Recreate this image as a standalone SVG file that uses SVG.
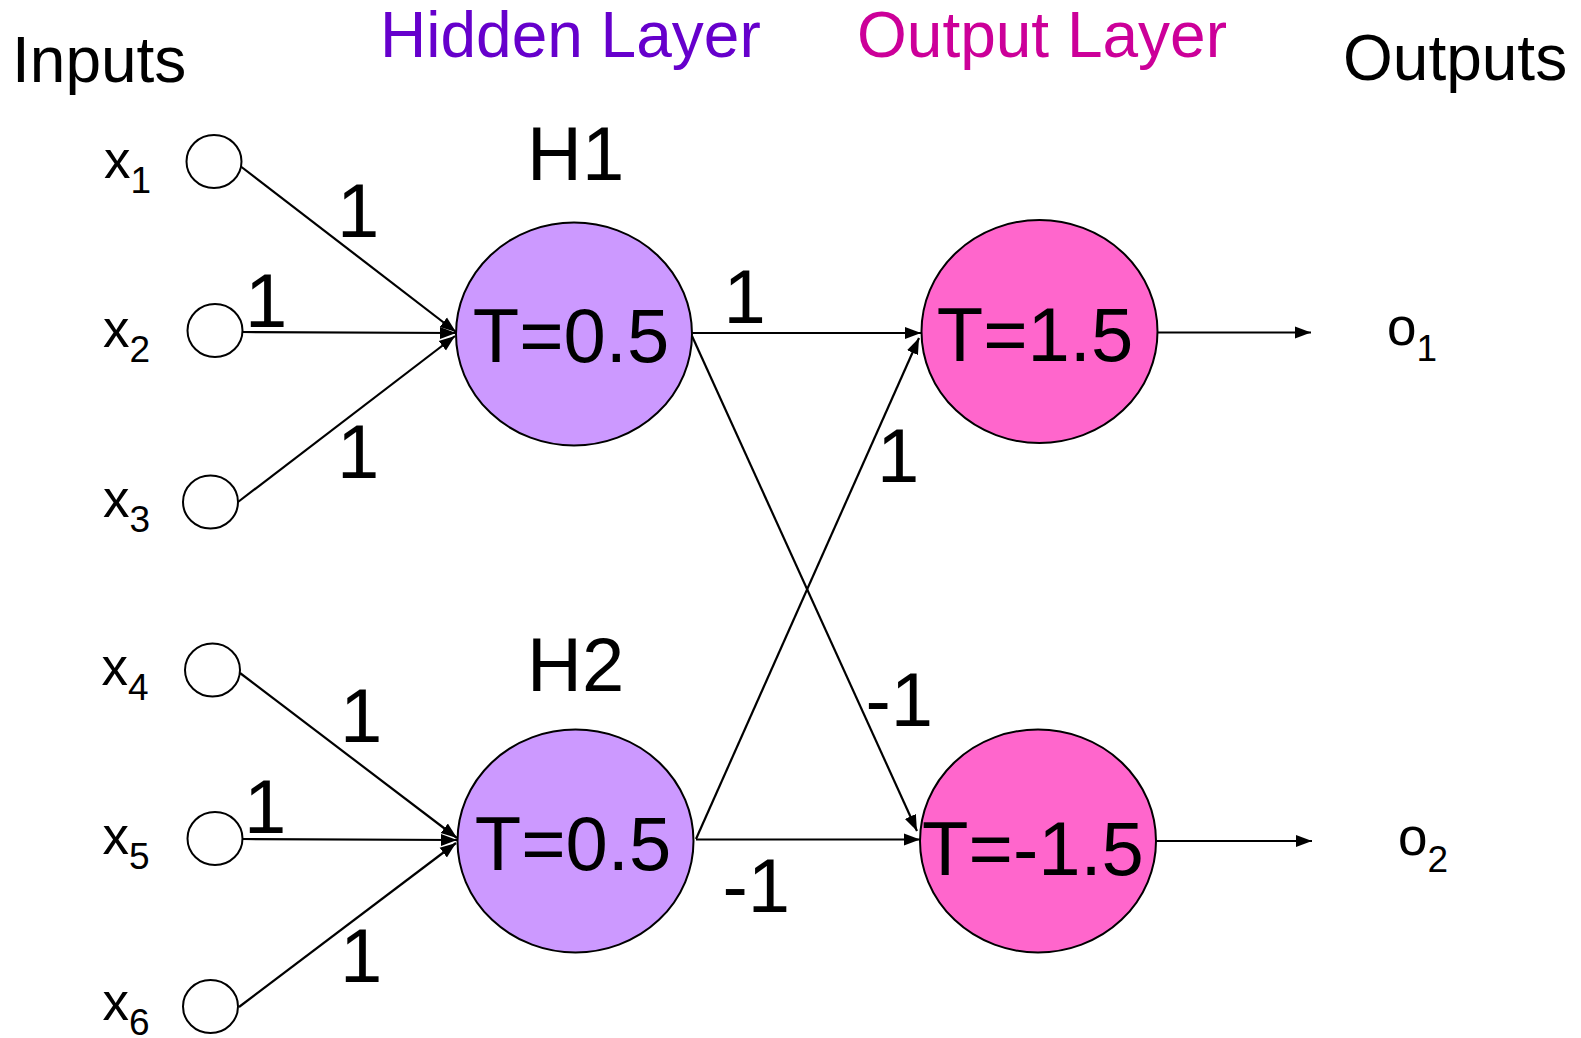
<svg xmlns="http://www.w3.org/2000/svg" width="1581" height="1038" viewBox="0 0 1581 1038">
<style>
text{font-family:"Liberation Sans",Arial,Helvetica,sans-serif;fill:#000}
.head{font-size:64px}
.big{font-size:76px}
.lbl{font-size:53px}
.sub{font-size:37px}
.inp{fill:#fff;stroke:#000;stroke-width:2}
.hid{fill:#CC99FF;stroke:#000;stroke-width:2}
.out{fill:#FF66CC;stroke:#000;stroke-width:2}
.edge{stroke:#000;stroke-width:2.2;fill:none;marker-end:url(#arr)}
</style>
<defs>
<marker id="arr" markerUnits="userSpaceOnUse" markerWidth="17" markerHeight="14" refX="16" refY="7" orient="auto">
<path d="M0,1 L16,7 L0,13 z" fill="#000"/>
</marker>
</defs>
<rect width="1581" height="1038" fill="#fff"/>
<g id="headings">
<text class="head" x="12" y="82">Inputs</text>
<text class="head" x="380" y="57" style="fill:#6600CC">Hidden Layer</text>
<text class="head" x="857" y="57" style="fill:#CC0099">Output Layer</text>
<text class="head" x="1343" y="80">Outputs</text>
<text class="big" x="527" y="180">H1</text>
<text class="big" x="527" y="691">H2</text>
</g>
<g id="nodes">
<g id="in1"><ellipse class="inp" cx="214" cy="161.5" rx="27.5" ry="26.5"/><text class="lbl" x="104" y="178">x<tspan class="sub" dy="15">1</tspan></text></g>
<g id="in2"><ellipse class="inp" cx="215" cy="330.5" rx="27.5" ry="26.5"/><text class="lbl" x="103" y="347">x<tspan class="sub" dy="15">2</tspan></text></g>
<g id="in3"><ellipse class="inp" cx="210.5" cy="502" rx="27.5" ry="26.5"/><text class="lbl" x="103" y="517">x<tspan class="sub" dy="15">3</tspan></text></g>
<g id="in4"><ellipse class="inp" cx="212.5" cy="670" rx="27.5" ry="26.5"/><text class="lbl" x="101.5" y="685">x<tspan class="sub" dy="15">4</tspan></text></g>
<g id="in5"><ellipse class="inp" cx="215" cy="838.5" rx="27.5" ry="26.5"/><text class="lbl" x="102.5" y="853.5">x<tspan class="sub" dy="15">5</tspan></text></g>
<g id="in6"><ellipse class="inp" cx="210.5" cy="1006.5" rx="27.5" ry="26.5"/><text class="lbl" x="102.5" y="1020">x<tspan class="sub" dy="15">6</tspan></text></g>
<g id="h1"><ellipse class="hid" cx="574" cy="334" rx="118" ry="111.5"/><text class="big" x="571" y="361.5" text-anchor="middle">T=0.5</text></g>
<g id="h2"><ellipse class="hid" cx="575.5" cy="841" rx="118" ry="111.5"/><text class="big" x="573" y="870" text-anchor="middle">T=0.5</text></g>
<g id="o1n"><ellipse class="out" cx="1039.5" cy="331.5" rx="118" ry="111.5"/><text class="big" x="1035" y="360.5" text-anchor="middle">T=1.5</text></g>
<g id="o2n"><ellipse class="out" cx="1038" cy="841" rx="118" ry="111.5"/><text class="big" x="1033" y="875" text-anchor="middle">T=-1.5</text></g>
<g id="outlbl1"><text class="lbl" x="1387" y="345">o<tspan class="sub" dy="16">1</tspan></text></g>
<g id="outlbl2"><text class="lbl" x="1398" y="855">o<tspan class="sub" dy="17">2</tspan></text></g>
</g>
<g id="connectors">
<line class="edge" x1="241.5" y1="167" x2="456" y2="332"/>
<line class="edge" x1="242.5" y1="332" x2="456" y2="333"/>
<line class="edge" x1="238" y1="502" x2="455" y2="336"/>
<line class="edge" x1="240" y1="673" x2="457" y2="838"/>
<line class="edge" x1="243" y1="839" x2="457" y2="840"/>
<line class="edge" x1="239" y1="1007" x2="456" y2="843"/>
<line class="edge" x1="692" y1="333" x2="921" y2="333"/>
<line class="edge" x1="692" y1="336" x2="917" y2="831"/>
<line class="edge" x1="696" y1="839" x2="919" y2="338"/>
<line class="edge" x1="696" y1="839.5" x2="920" y2="839.5"/>
<line class="edge" x1="1157.5" y1="332.5" x2="1311" y2="332.5"/>
<line class="edge" x1="1156" y1="841" x2="1312" y2="841"/>
<g id="weights">
<text class="big" x="337" y="237">1</text>
<text class="big" x="245" y="327">1</text>
<text class="big" x="337" y="478">1</text>
<text class="big" x="340" y="742">1</text>
<text class="big" x="244" y="833">1</text>
<text class="big" x="340" y="982">1</text>
<text class="big" x="723.5" y="323">1</text>
<text class="big" x="877" y="482">1</text>
<text class="big" x="865.5" y="726">-1</text>
<text class="big" x="722.5" y="911.5">-1</text>
</g>
</g>
</svg>
